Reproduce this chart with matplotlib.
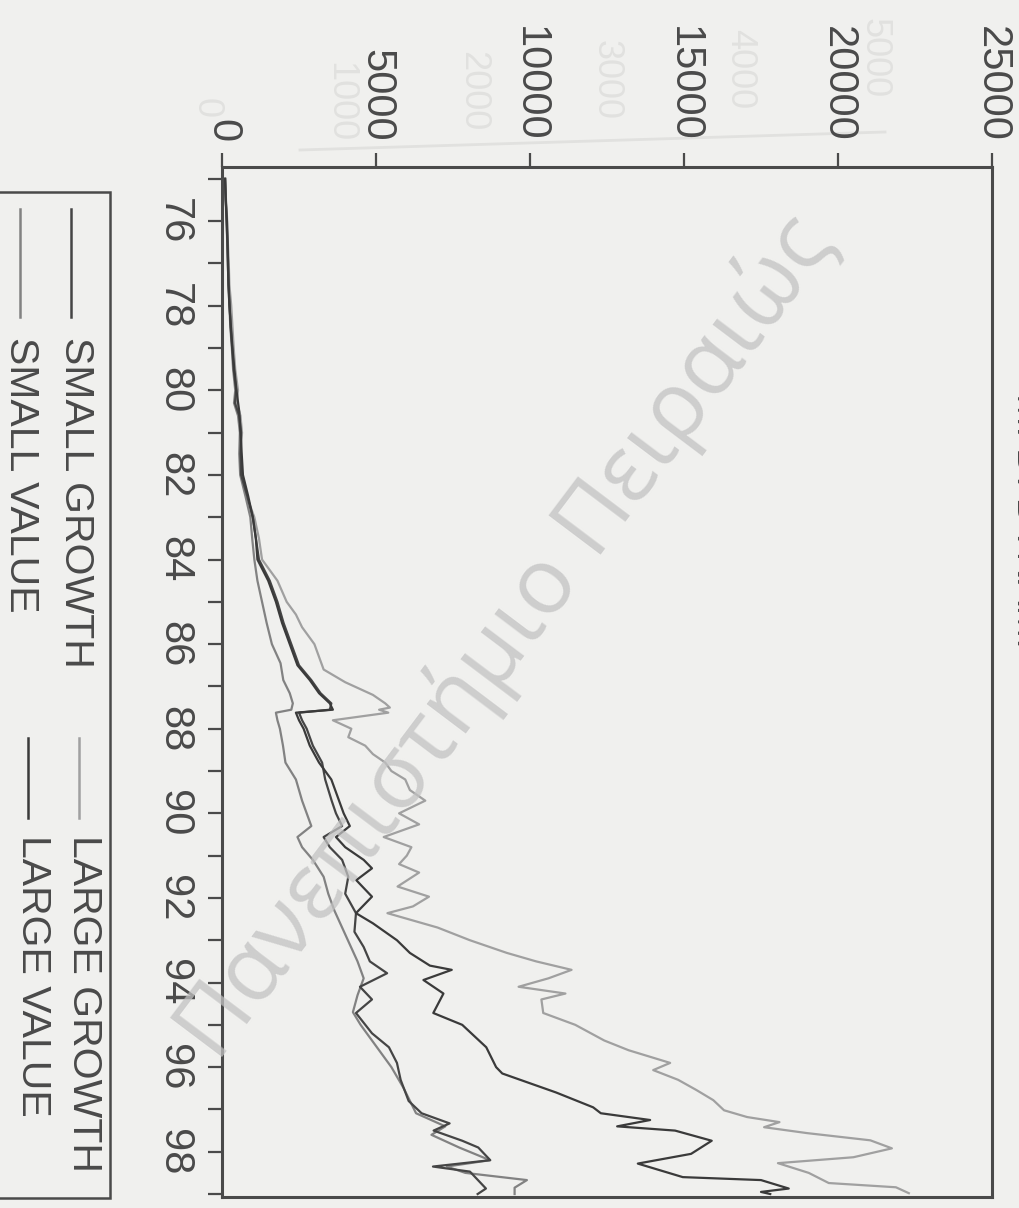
import matplotlib
matplotlib.use("Agg")
import matplotlib.pyplot as plt
from matplotlib.lines import Line2D
from matplotlib.patches import Rectangle

# page is scanned sideways: values run left->right, years run top->bottom
W, H, DPI = 1019, 1208, 100

plt.rcParams["font.family"] = ["Liberation Sans", "DejaVu Sans"]

value_ticks = [0, 5000, 10000, 15000, 20000, 25000]
year_major = [76, 78, 80, 82, 84, 86, 88, 90, 92, 94, 96, 98]
year_minor = [75, 77, 79, 81, 83, 85, 87, 89, 91, 93, 95, 97, 99]
ghost_ticks = [0, 1000, 2000, 3000, 4000, 5000]

series_names = ["SMALL GROWTH", "LARGE GROWTH", "SMALL VALUE", "LARGE VALUE"]

lg_years = [75.0, 75.5, 76.0, 76.5, 77.0, 77.5, 78.0, 78.5, 79.0, 79.5, 80.0, 80.3,
            80.6, 81.0, 81.5, 82.0, 82.5, 83.0, 83.5, 84.0, 84.5, 85.0, 85.3, 85.6,
            86.0, 86.3, 86.6, 86.9, 87.2, 87.4, 87.5, 87.55, 87.62, 87.8, 88.0, 88.2,
            88.4, 88.6, 88.8, 89.0, 89.2, 89.45, 89.7, 90.0, 90.26, 90.56, 90.8, 91.0,
            91.2, 91.4, 91.73, 91.97, 92.2, 92.36, 92.7, 93.0, 93.3, 93.5, 93.7, 93.9,
            94.1, 94.26, 94.4, 94.72, 95.0, 95.37, 95.6, 95.9, 96.07, 96.3, 96.54, 96.78,
            97.02, 97.18, 97.3, 97.42, 97.56, 97.73, 97.92, 98.13, 98.27, 98.5, 98.74,
            98.84, 98.98]
lg_values = [100, 130, 170, 190, 220, 240, 300, 340, 380, 430, 520, 480,
             600, 650, 610, 620, 800, 1050, 1200, 1300, 1800, 2100, 2400, 2600,
             3000, 3150, 3300, 4000, 4900, 5300, 5450, 5100, 5400, 3600, 4200, 4100,
             4650, 4900, 5300, 5500, 5950, 6100, 6600, 5750, 6400, 5250, 6150, 6000,
             5750, 6400, 5700, 6720, 6200, 5370, 7000, 8050, 9250, 10200, 11350, 10600,
             9630, 11150, 10370, 10430, 11470, 12410, 13200, 14550, 14000, 14810, 15400, 15950,
             16300, 17050, 18100, 17600, 19000, 21050, 21750, 20500, 18050, 19050, 19700,
             21880, 22300]

lv_years = [75.0, 75.5, 76.0, 76.5, 77.0, 77.5, 78.0, 78.5, 79.0, 79.5, 80.0, 80.5,
            81.0, 81.5, 82.0, 82.5, 83.0, 83.5, 84.0, 84.5, 85.0, 85.5, 86.0, 86.5,
            86.85, 87.16, 87.4, 87.55, 87.62, 87.8, 88.0, 88.4, 88.8, 89.2, 89.7, 90.0,
            90.3, 90.56, 90.8, 91.1, 91.3, 91.58, 91.97, 92.36, 92.6, 93.0, 93.3, 93.6,
            93.7, 93.94, 94.26, 94.72, 95.0, 95.53, 96.0, 96.15, 96.6, 96.95, 97.09, 97.25,
            97.4, 97.5, 97.74, 98.05, 98.28, 98.6, 98.67, 98.87, 98.95, 99.0]
lv_values = [100, 120, 160, 180, 190, 210, 240, 290, 340, 400, 470, 560,
             600, 640, 680, 850, 1000, 1100, 1150, 1500, 1750, 1950, 2200, 2450,
             2850, 3150, 3500, 3600, 2400, 2500, 2650, 2850, 3150, 3550, 3800, 3950,
             4150, 3700, 4000, 4600, 4870, 4360, 4870, 4350, 4900, 5680, 6100, 6750,
             7460, 6540, 7190, 6860, 7800, 8580, 8900, 9100, 10850, 12050, 12300, 13900,
             12830, 14710, 15900, 15230, 13500, 14960, 17500, 18400, 17500, 17800]

sg_years = [75.0, 75.5, 76.0, 76.5, 77.0, 77.5, 78.0, 78.5, 79.0, 79.5, 80.0, 80.3,
            80.6, 81.0, 81.5, 82.0, 82.5, 83.0, 83.5, 84.0, 84.5, 85.0, 85.5, 86.0,
            86.5, 86.85, 87.16, 87.4, 87.55, 87.62, 87.8, 88.0, 88.4, 88.8, 89.2, 89.7,
            90.0, 90.3, 90.56, 90.8, 91.1, 91.5, 91.9, 92.36, 92.8, 93.16, 93.5, 93.78,
            94.1, 94.4, 94.72, 95.2, 95.53, 95.9, 96.3, 96.8, 97.09, 97.33, 97.5, 97.74,
            97.9, 98.2, 98.35, 98.47, 98.67, 98.87, 99.0]
sg_values = [100, 125, 150, 175, 200, 215, 250, 280, 330, 380, 460, 420,
             560, 620, 600, 620, 820, 1000, 1100, 1200, 1550, 1800, 2000, 2250,
             2500, 2900, 3200, 3550, 3500, 2500, 2600, 2750, 2950, 3250, 3350, 3560,
             3700, 3900, 3300, 3500, 3900, 4100, 4000, 4350, 4300, 4600, 4800, 5360,
             4480, 4870, 4350, 4870, 5420, 5680, 5800, 6060, 6480, 7390, 6870, 7800,
             8320, 8710, 6850, 8050, 8310, 8570, 8300]

sv_years = [75.0, 75.5, 76.0, 76.5, 77.0, 77.5, 78.0, 78.5, 79.0, 79.5, 80.0, 80.3,
            80.6, 81.0, 81.5, 82.0, 82.5, 83.0, 83.5, 84.0, 84.5, 85.0, 85.5, 86.0,
            86.45, 86.85, 87.16, 87.4, 87.55, 87.62, 87.8, 88.0, 88.4, 88.8, 89.2, 89.7,
            90.0, 90.3, 90.56, 90.8, 91.1, 91.5, 91.9, 92.3, 92.7, 93.1, 93.5, 93.9,
            94.3, 94.7, 95.0, 95.5, 96.0, 96.5, 97.09, 97.4, 97.6, 97.9, 98.2, 98.35,
            98.5, 98.67, 98.85, 99.0]
sv_values = [100, 120, 145, 170, 190, 210, 240, 270, 320, 360, 430, 390,
             520, 580, 560, 590, 760, 920, 980, 1050, 1150, 1300, 1450, 1620,
             1900, 1990, 2200, 2300, 2250, 1750, 1800, 1880, 1980, 2060, 2400, 2600,
             2750, 2900, 2450, 2600, 2950, 3300, 3450, 3650, 3900, 4150, 4400, 4600,
             4400, 4250, 4500, 5000, 5500, 5900, 6300, 7250, 6800, 7700, 8700, 7300,
             7900, 9900, 9500, 9500]

PAPER = "#f0f0ee"
INK = "#4a4a4a"
GHOST = "#e1e1df"
colors = {
    "SMALL GROWTH": "#454545",
    "LARGE GROWTH": "#a0a0a0",
    "SMALL VALUE": "#828282",
    "LARGE VALUE": "#3a3a3a",
}


def fx(x):
    return x / W


def fy(y):
    return 1 - y / H


fig = plt.figure(figsize=(W / DPI, H / DPI), dpi=DPI, facecolor=PAPER)

# faint print-through from the facing page
for v in ghost_ticks:
    gx = 206 + v * 0.1335
    gbottom = 118 if v == 0 else 142 - (v - 1000) * 0.011
    fig.text(fx(gx), fy(gbottom), str(v), rotation=-90, ha="center", va="bottom",
             fontsize=26, color=GHOST, zorder=0)
fig.add_artist(Line2D([fx(300), fx(885)], [fy(150), fy(132)], color=GHOST, lw=2, zorder=0))

ax = fig.add_axes([fx(222), fy(1197), fx(992) - fx(222), fy(167) - fy(1197)])
ax.set_facecolor("none")

ax.plot(lg_values, lg_years, color=colors["LARGE GROWTH"], lw=1.6)
ax.plot(sv_values, sv_years, color=colors["SMALL VALUE"], lw=1.6)
ax.plot(sg_values, sg_years, color=colors["SMALL GROWTH"], lw=1.6)
ax.plot(lv_values, lv_years, color=colors["LARGE VALUE"], lw=1.6)

ax.set_xlim(0, 25000)
ax.set_ylim(99.07, 74.72)

ax.xaxis.set_ticks_position("top")
ax.set_xticks(value_ticks)
ax.set_xticklabels([str(v) for v in value_ticks], rotation=-90, fontsize=30, color=INK)
ax.set_yticks(year_major)
ax.set_yticklabels([str(y) for y in year_major], rotation=-90, va="center", fontsize=30, color=INK)
ax.set_yticks(year_minor, minor=True)
ax.tick_params(axis="both", which="both", direction="out", length=10, width=1.6, color=INK)
ax.tick_params(axis="x", pad=8)
ax.tick_params(axis="y", pad=10)
for s in ax.spines.values():
    s.set_linewidth(2.2)
    s.set_color(INK)

# legend box, drawn by hand because it is rotated with the page
fig.add_artist(Rectangle((fx(-10), fy(1198)), fx(110) - fx(-10), fy(192) - fy(1198),
                         fill=False, ec=INK, lw=1.8, transform=fig.transFigure))
legend_spots = {
    "SMALL GROWTH": (71, 209, 317, 76, 337),
    "SMALL VALUE": (20, 209, 317, 21, 337),
    "LARGE GROWTH": (79, 738, 818, 84, 835),
    "LARGE VALUE": (28, 738, 818, 33, 835),
}
for name in series_names:
    lx, y0, y1, tx, ty = legend_spots[name]
    fig.add_artist(Line2D([fx(lx), fx(lx)], [fy(y0), fy(y1)], color=colors[name], lw=1.8))
    fig.text(fx(tx), fy(ty), name, rotation=-90, ha="center", va="top", fontsize=29.5, color=INK)

# title cut off by the scan edge
fig.text(fx(1009), fy(393), "M. DI DYNAMI", rotation=-90, ha="left", va="top",
         fontsize=28, color=INK)

# watermark
fig.text(fx(506), fy(638), "Πανεπιστήμιο Πειραιώς", rotation=53, ha="center", va="center",
         rotation_mode="anchor", fontsize=66, color="#c2c2c2", alpha=0.75,
         family=["Open Sans", "DejaVu Sans"], zorder=10)

fig.savefig("out.png", dpi=DPI, facecolor=PAPER)
